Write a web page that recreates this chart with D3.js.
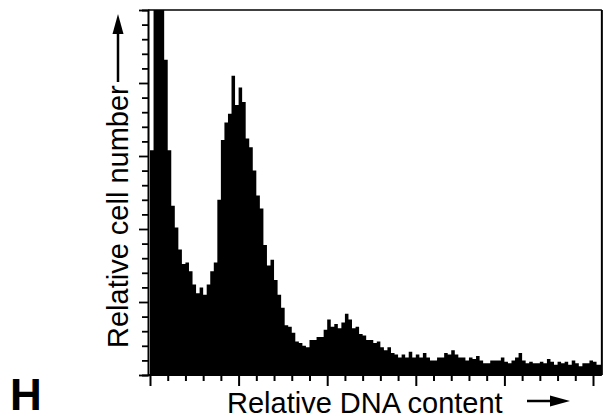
<!DOCTYPE html>
<html>
<head>
<meta charset="utf-8">
<script src="https://cdn.jsdelivr.net/npm/d3@7"></script>
<style>
  html, body { margin: 0; padding: 0; background: #fff; }
  svg { display: block; }
  text { font-family: "Liberation Sans", Arial, Helvetica, sans-serif; fill: #000; }
</style>
</head>
<body>
<svg id="chart" width="607" height="420"></svg>
<script>
// Histogram: DNA content channel bins (width 2) and relative cell counts
const binWidth = 2;
const counts = [154,300,300,260,216,154,116,101,86,76,
  77,71,62,56,60,55,62,71,77,120,
  161,173,179,205,185,197,187,162,156,140,
  123,114,89,75,79,65,55,46,34,33,
  29,23,22,20,19,24,24,26,26,31,
  38,33,35,32,36,42,38,32,33,28,
  27,24,24,22,23,19,17,19,15,14,
  12,14,12,16,12,14,12,15,12,10,
  10,12,12,15,14,17,14,12,12,10,
  12,11,13,10,8,8,10,10,10,12,
  9,8,10,12,15,10,8,9,8,8,
  9,8,11,9,7,9,8,9,7,10,
  8,6,8,8,10,9,7,7];
const xTicks = d3.range(0, 251, 10);
const xMajor = d3.range(0, 251, 50);
const yTicks = d3.range(0, 251, 10);
const yMajor = d3.range(0, 251, 50);
const xLabel = "Relative DNA content";
const yLabel = "Relative cell number";
const panelLabel = "H";

const svg = d3.select("#chart");
const x = d3.scaleLinear().domain([0, 250]).range([150, 593]);
const y = d3.scaleLinear().domain([0, 250]).range([375, 10]);
const xMax = 255; // right frame

svg.append("clipPath").attr("id", "clip")
  .append("rect")
  .attr("x", 148).attr("y", y(250))
  .attr("width", x(xMax) - 148).attr("height", y(0) - y(250));

const pts = counts.map((v, i) => ({ x: i * binWidth, v }));
pts.push({ x: counts.length * binWidth, v: counts[counts.length - 1] });

const area = d3.area()
  .x(d => x(d.x))
  .y0(y(0))
  .y1(d => y(d.v))
  .curve(d3.curveStepAfter);

svg.append("path")
  .datum(pts)
  .attr("clip-path", "url(#clip)")
  .attr("d", area)
  .attr("fill", "#000");

// frame: top and right
svg.append("line").attr("x1", 148).attr("x2", x(xMax)).attr("y1", y(250)).attr("y2", y(250))
  .attr("stroke", "#000").attr("stroke-width", 1.5);
svg.append("line").attr("x1", x(xMax)).attr("x2", x(xMax)).attr("y1", y(250)).attr("y2", y(0))
  .attr("stroke", "#000").attr("stroke-width", 2);

// x axis
const xAxis = d3.axisBottom(x).tickValues(xTicks).tickFormat("").tickSizeOuter(0)
  .tickSize(6);
const gx = svg.append("g").attr("transform", `translate(0,${y(0)})`).call(xAxis);
gx.select(".domain").attr("d", `M148,0H${x(xMax)}`).attr("stroke-width", 2);
gx.selectAll(".tick line").attr("stroke-width", 2)
  .attr("y2", d => xMajor.includes(d) ? 11 : 6);

// y axis
const yAxis = d3.axisLeft(y).tickValues(yTicks).tickFormat("").tickSizeOuter(0)
  .tickSize(6);
const gy = svg.append("g").attr("transform", `translate(148,0)`).call(yAxis);
gy.select(".domain").attr("stroke-width", 2);
gy.selectAll(".tick line").attr("stroke-width", 1.8)
  .attr("x2", d => yMajor.includes(d) ? -9 : -6);

// x label + arrow
svg.append("text").attr("x", 227).attr("y", 413)
  .attr("font-size", 29).text(xLabel);
svg.append("line").attr("x1", 527).attr("x2", 556).attr("y1", 401).attr("y2", 401)
  .attr("stroke", "#000").attr("stroke-width", 2.5);
svg.append("path").attr("d", "M570,401L550,395.5L550,406.5Z").attr("fill", "#000");

// y label + arrow
svg.append("text")
  .attr("transform", "translate(128,348) rotate(-90)")
  .attr("font-size", 29).text(yLabel);
svg.append("line").attr("x1", 118).attr("x2", 118).attr("y1", 82).attr("y2", 30)
  .attr("stroke", "#000").attr("stroke-width", 2.5);
svg.append("path").attr("d", "M118,14L112.5,34L123.5,34Z").attr("fill", "#000");

// panel label
svg.append("text").attr("x", 10).attr("y", 410)
  .attr("font-size", 44).attr("font-weight", "bold").text(panelLabel);
</script>
</body>
</html>
